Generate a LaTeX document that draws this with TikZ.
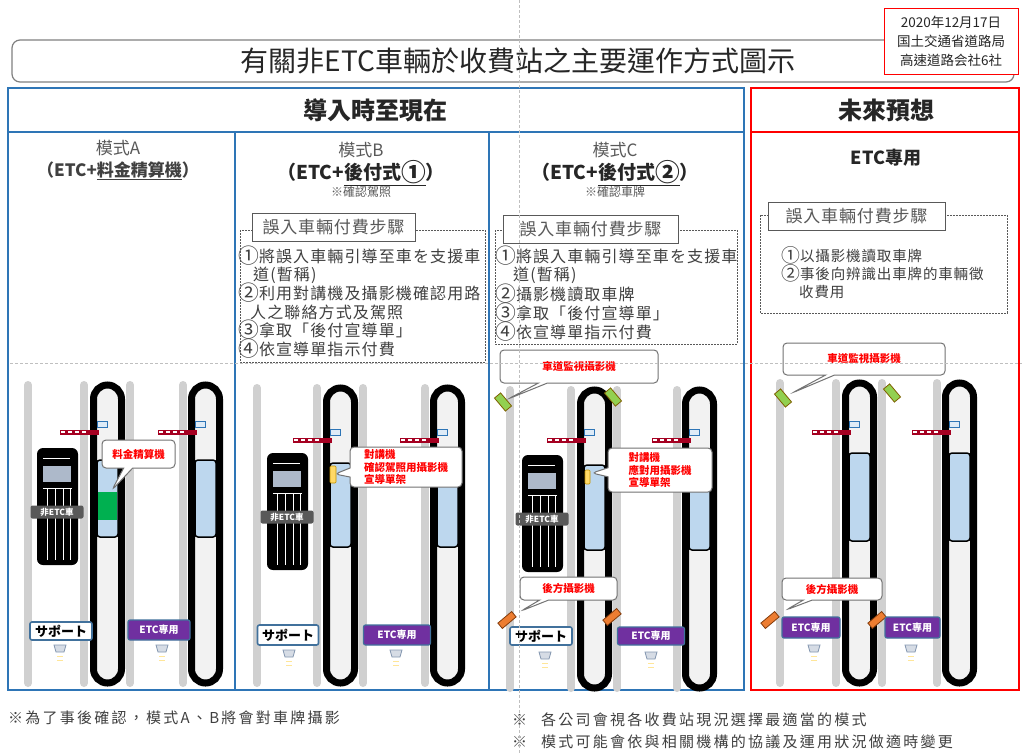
\documentclass[tikz,border=0pt]{standalone}
\usepackage{fontspec}
\setmainfont{Noto Sans CJK TC}
\newfontfamily\widefont[LetterSpace=7]{Noto Sans CJK TC}
\newfontfamily\notefont[LetterSpace=15]{Noto Sans CJK TC}
\newfontfamily\stepfontF[LetterSpace=6]{Noto Sans CJK TC}
\newfontfamily\titlefont[LetterSpace=5]{Noto Sans CJK TC}
\usetikzlibrary{shapes.callouts}

% circled step numbers, set a little larger so they fill a full character cell
\newcommand\cnum[1]{{\fontsize{1.3\dimexpr\csname f@size\endcsname pt\relax}{10}\selectfont\raisebox{-0.06em}{#1}}}

\definecolor{panelblue}{HTML}{2E75B6}
\definecolor{panelred}{HTML}{FF0000}
\definecolor{guidegray}{HTML}{BFBFBF}
\definecolor{lanegray}{HTML}{D0D0D0}
\definecolor{islandfill}{HTML}{F2F2F2}
\definecolor{boothblue}{HTML}{BDD7EE}
\definecolor{barred}{HTML}{A50021}
\definecolor{sensorfill}{HTML}{DEEBF7}
\definecolor{etcpurple}{HTML}{7030A0}
\definecolor{supportblue}{HTML}{41719C}
\definecolor{paygreen}{HTML}{00B050}
\definecolor{camgreen}{HTML}{92D050}
\definecolor{camolive}{HTML}{7F6000}
\definecolor{camorange}{HTML}{ED7D31}
\definecolor{camrust}{HTML}{843C0C}
\definecolor{textgray}{HTML}{595959}
\definecolor{darktext}{HTML}{404040}
\definecolor{titletext}{HTML}{262626}
\definecolor{windowgray}{HTML}{ADB9CA}
\definecolor{lampfill}{HTML}{D6DCE5}
\definecolor{lampdraw}{HTML}{8497B0}
\definecolor{glow}{HTML}{FFE699}
\definecolor{intercomfill}{HTML}{FFD966}
\definecolor{intercomdraw}{HTML}{BF9000}

\tikzset{
  laneline/.style={draw=lanegray, line width=8, line cap=round},
  island/.style={draw=black, line width=7, fill=islandfill, rounded corners=14},
  booth/.style={draw=black, line width=1.5, fill=boothblue, rounded corners=3},
  barbase/.style={draw=barred, line width=5},
  barstripe/.style={draw=white, line width=2.4, dash pattern=on 3.5pt off 3.5pt},
  sensor/.style={draw=panelblue, line width=1, fill=sensorfill},
  carlabel/.style={fill=textgray, rounded corners=2, text=white, inner sep=0,
    minimum width=53, minimum height=13, font=\bfseries\fontsize{8.5}{9}\selectfont},
  supportlabel/.style={draw=supportblue, line width=1.6, fill=white, rounded corners=2,
    inner sep=0, font=\bfseries\fontsize{13}{14}\selectfont},
  etclabel/.style={draw=supportblue, line width=1.2, fill=etcpurple, rounded corners=2,
    text=white, inner sep=0, font=\bfseries\fontsize{10}{11}\selectfont},
  lamp/.style={draw=lampdraw, line width=0.8, fill=lampfill},
  lampglow/.style={draw=glow, line width=1},
  intercom/.style={draw=intercomdraw, line width=0.6, fill=intercomfill, rounded corners=1},
  callout/.style={rectangle callout, draw=black!55, line width=1, fill=white,
    rounded corners=4, text=red, align=left, inner sep=0,
    callout pointer width=9pt, font=\bfseries\fontsize{10.5}{12.8}\selectfont},
  greencam/.style={draw=camolive, line width=0.8, fill=camgreen, inner sep=0,
    minimum width=17, minimum height=8},
  orangecam/.style={draw=camrust, line width=0.8, fill=camorange, inner sep=0,
    minimum width=18, minimum height=7},
  panelframe/.style={line width=1.5},
  stepframe/.style={draw=textgray, line width=0.8, dash pattern=on 2pt off 1pt},
  steptitle/.style={draw=textgray, line width=1, fill=white, inner sep=0,
    minimum height=28, text=textgray, font=\fontsize{17}{18}\titlefont},
  stepline/.style={anchor=west, inner sep=0, text=darktext,
    font=\fontsize{16}{18}\widefont},
  steplineF/.style={anchor=west, inner sep=0, text=darktext,
    font=\fontsize{14.5}{18}\stepfontF},
  modelabel/.style={inner sep=0, text=textgray, font=\fontsize{17}{18}\selectfont},
  modetitle/.style={inner sep=0, text=titletext},
  modenote/.style={inner sep=0, text=textgray, font=\fontsize{12}{13}\selectfont},
  headtext/.style={inner sep=0, text=titletext, font=\bfseries\fontsize{24}{26}\selectfont},
  note/.style={anchor=west, inner sep=0, text=darktext, font=\fontsize{15}{16}\notefont},
  guide/.style={draw=guidegray, line width=1, dash pattern=on 3pt off 2pt},
}

% One toll plaza: two lanes with their islands, booths, gates and antennas.
% #1 x of the outer lane line, #2/#3 x offsets of the two islands,
% #4 top, #5 bottom, #6 gate y, #7/#8 booth top and bottom
\newcommand\tollplaza[8]{%
  \begin{scope}[shift={(#1,0)}]
    \foreach \gx in {0,#2-6,#2+40,#3-5}
      \draw[laneline] (\gx,#4) -- (\gx,#5);
    \foreach \ix in {#2,#3} {
      \draw[island] (\ix+3.5,#4) rectangle (\ix+31.5,#5);
      \draw[booth] (\ix+7,#7) rectangle (\ix+28,#8);
      \draw[barbase] (\ix-30,#6) -- (\ix+9,#6);
      \draw[barstripe] (\ix-29,#6) -- (\ix-2,#6);
      \draw[sensor] (\ix+7,#6-11) rectangle (\ix+17,#6-5);
    }
  \end{scope}}

% A non-ETC car seen from above, #1,#2 top-left corner, #3 name of its tag
\newcommand\nonetccar[3]{%
  \fill[black, rounded corners=6] (#1,#2) rectangle ++(41,117);
  \draw[white, line width=1] (#1+6,#2+10) -- (#1+33,#2+10);
  \fill[windowgray] (#1+6,#2+18) rectangle (#1+34,#2+34);
  \draw[white, line width=1] (#1+6,#2+40) -- (#1+35,#2+40);
  \foreach \vx in {10,18,26,33}
    \draw[white, line width=1] (#1+\vx,#2+40) -- (#1+\vx,#2+112);
  \node[carlabel] (#3) at (#1+20,#2+64) {非ETC車};}

% Lane signal lamp under a lane sign
\newcommand\lanelamp[2]{%
  \draw[lamp] (#1-6,#2) -- (#1+6,#2) -- (#1+4,#2+7) -- (#1-4,#2+7) -- cycle;
  \draw[lampglow] (#1-3,#2+11) -- (#1+3,#2+11);
  \draw[lampglow] (#1-3,#2+15) -- (#1+3,#2+15);}

\begin{document}
\begin{tikzpicture}[x=1pt,y=-1pt]
\useasboundingbox (0,0) rectangle (1022,753);
\fill[white] (0,0) rectangle (1022,753);

% ---- title and issue box ----
\draw[draw=black!50, line width=1.2, rounded corners=8] (12,40) rectangle (1014,82);
\node[inner sep=0, text=titletext, font=\fontsize{28}{30}\selectfont] (title) at (518,61)
  {有關非ETC車輛於收費站之主要運作方式圖示};
\node[draw=panelred, line width=1, fill=white, minimum width=134, minimum height=66,
  inner sep=0, align=center, text=titletext, font=\fontsize{13.5}{19}\selectfont]
  (issued) at (951,41) {2020年12月17日\\国土交通省道路局\\高速道路会社6社};

% ---- panels ----
\draw[panelframe, draw=panelblue] (8,88) rectangle (744,690);
\draw[panelframe, draw=panelblue] (8,132) -- (744,132);
\draw[panelframe, draw=panelblue] (235,132) -- (235,690);
\draw[panelframe, draw=panelblue] (489,132) -- (489,690);
\draw[panelframe, draw=panelred] (751,88) rectangle (1019,690);
\draw[panelframe, draw=panelred] (751,132) -- (1019,132);
\node[headtext] (now) at (375,110) {導入時至現在};
\node[headtext] (future) at (886,110) {未來預想};

% ---- column headings ----
\node[modelabel] (modeA) at (118,148) {模式A};
\node[modetitle, text=darktext, font=\bfseries\fontsize{17}{18}\selectfont] (typeA) at (118,171)
  {（ETC+\underline{料金精算機}）};
\node[modelabel] (modeB) at (361,150) {模式B};
\node[modetitle, font=\bfseries\fontsize{19}{20}\selectfont] (typeB) at (361,173)
  {（ETC+\underline{後付式\cnum{①}}）};
\node[modenote] (noteB) at (361,192) {※確認駕照};
\node[modelabel] (modeC) at (615,150) {模式C};
\node[modetitle, font=\bfseries\fontsize{19}{20}\selectfont] (typeC) at (615,173)
  {（ETC+\underline{後付式\cnum{②}}）};
\node[modenote] (noteC) at (615,192) {※確認車牌};
\node[modetitle, font=\bfseries\fontsize{18}{19}\selectfont] (typeF) at (886,158) {ETC專用};

% ---- payment steps ----
\draw[stepframe] (240,230) rectangle (485,362);
\node[steptitle, minimum width=163] (stepsB) at (333.5,227.5) {誤入車輛付費步驟};
\node[stepline] (b1) at (238,256) {\cnum{①}將誤入車輛引導至車を支援車};
\node[stepline] (b2) at (253,275) {道(暫稱)};
\node[stepline] (b3) at (238,293) {\cnum{②}利用對講機及攝影機確認用路};
\node[stepline] (b4) at (250,312) {人之聯絡方式及駕照};
\node[stepline] (b5) at (238,330) {\cnum{③}拿取「後付宣導單」};
\node[stepline] (b6) at (238,349) {\cnum{④}依宣導單指示付費};

\draw[stepframe] (495,230) rectangle (737,344);
\node[steptitle, minimum width=175] (stepsC) at (590.5,229) {誤入車輛付費步驟};
\node[stepline] (c1) at (495,256) {\cnum{①}將誤入車輛引導至車を支援車};
\node[stepline] (c2) at (513,275) {道(暫稱)};
\node[stepline] (c3) at (495,294) {\cnum{②}攝影機讀取車牌};
\node[stepline] (c4) at (495,313) {\cnum{③}拿取「後付宣導單」};
\node[stepline] (c5) at (495,332) {\cnum{④}依宣導單指示付費};

\draw[stepframe] (760,215) rectangle (1007,313);
\node[steptitle, minimum width=177] (stepsF) at (856.5,216) {誤入車輛付費步驟};
\node[steplineF] (f1) at (781,255) {\cnum{①}以攝影機讀取車牌};
\node[steplineF] (f2) at (781,273) {\cnum{②}事後向辨識出車牌的車輛徵};
\node[steplineF] (f3) at (799,292) {收費用};

% ---- model A: pay machine ----
\tollplaza{28}{62}{160}{385}{683}{432}{460}{537}
\fill[paygreen] (98,492) rectangle (117,520);
\nonetccar{37}{448}{carA}
\node[supportlabel, minimum width=62, minimum height=18] (supA) at (61,631) {サポート};
\node[etclabel, minimum width=62, minimum height=20] (etcA) at (159,630) {ETC専用};
\lanelamp{60}{645}
\lanelamp{162}{645}

% ---- model B: deferred payment, licence check ----
\tollplaza{257}{66}{173}{388}{683}{440}{463}{547}
\nonetccar{267}{453}{carB}
\draw[intercom] (330,466) rectangle (336,483);
\node[supportlabel, minimum width=61, minimum height=20] (supB) at (288,635) {サポート};
\node[etclabel, minimum width=67, minimum height=20] (etcB) at (397,635) {ETC専用};
\lanelamp{289}{650}
\lanelamp{396}{650}

% ---- model C: deferred payment, plate check ----
\tollplaza{510}{67}{172}{390}{688}{440}{465}{550}
\nonetccar{522}{455}{carC}
\draw[intercom] (585,470) rectangle (590,484);
\node[greencam, rotate=-50] (camC1) at (503,402) {};
\node[greencam, rotate=-50] (camC2) at (613,397) {};
\node[orangecam, rotate=40] (camC3) at (507,620) {};
\node[orangecam, rotate=40] (camC4) at (612,617) {};
\node[supportlabel, minimum width=62, minimum height=18] (supC) at (541,636) {サポート};
\node[etclabel, minimum width=67, minimum height=18] (etcC) at (651,636) {ETC専用};
\lanelamp{545}{652}
\lanelamp{651}{652}

% ---- future: ETC only ----
\tollplaza{780}{62}{162}{383}{683}{432}{453}{541}
\node[greencam, rotate=-50] (camF1) at (783,398) {};
\node[greencam, rotate=-50] (camF2) at (892,393) {};
\node[orangecam, rotate=40] (camF3) at (770,620) {};
\node[orangecam, rotate=40] (camF4) at (877,620) {};
\node[etclabel, minimum width=58, minimum height=21] (etcF1) at (811,627.5) {ETC専用};
\node[etclabel, minimum width=55, minimum height=21] (etcF2) at (912.5,627.5) {ETC専用};
\lanelamp{814}{645}
\lanelamp{911}{645}

% ---- call-outs ----
\node[callout, minimum width=73, minimum height=28,
  callout absolute pointer={(112,490)}] (payA) at (138.5,454) {料金精算機};
\node[callout, minimum width=112, minimum height=40,
  callout absolute pointer={(335,474)}] (boothB) at (406,467)
  {對講機\\確認駕照用攝影機\\宣導單架};
\node[callout, minimum width=104, minimum height=44,
  callout absolute pointer={(592,473)}] (boothC) at (660,470)
  {對講機\\應對用攝影機\\宣導單架};
\node[callout, minimum width=158, minimum height=33,
  callout absolute pointer={(508,399)}] (monC) at (579,366.5) {車道監視攝影機};
\node[callout, minimum width=97, minimum height=23,
  callout absolute pointer={(521,611)}] (rearC) at (568.5,588.5) {後方攝影機};
\node[callout, minimum width=162, minimum height=32,
  callout absolute pointer={(792,393)}] (monF) at (864,359) {車道監視攝影機};
\node[callout, minimum width=100, minimum height=22,
  callout absolute pointer={(786,610)}] (rearF) at (832,589) {後方攝影機};

% ---- footnotes ----
\node[note] (fnA) at (8,718) {※為了事後確認，模式A、B將會對車牌攝影};
\node[note] (fnB) at (512,720) {※\hspace{14pt}各公司會視各收費站現況選擇最適當的模式};
\node[note] (fnC) at (512,742) {※\hspace{14pt}模式可能會依與相關機構的協議及運用狀況做適時變更};

% ---- layout guides ----
\draw[guide] (519,0) -- (519,753);
\draw[guide] (10,363) -- (1022,363);
\end{tikzpicture}
\end{document}
